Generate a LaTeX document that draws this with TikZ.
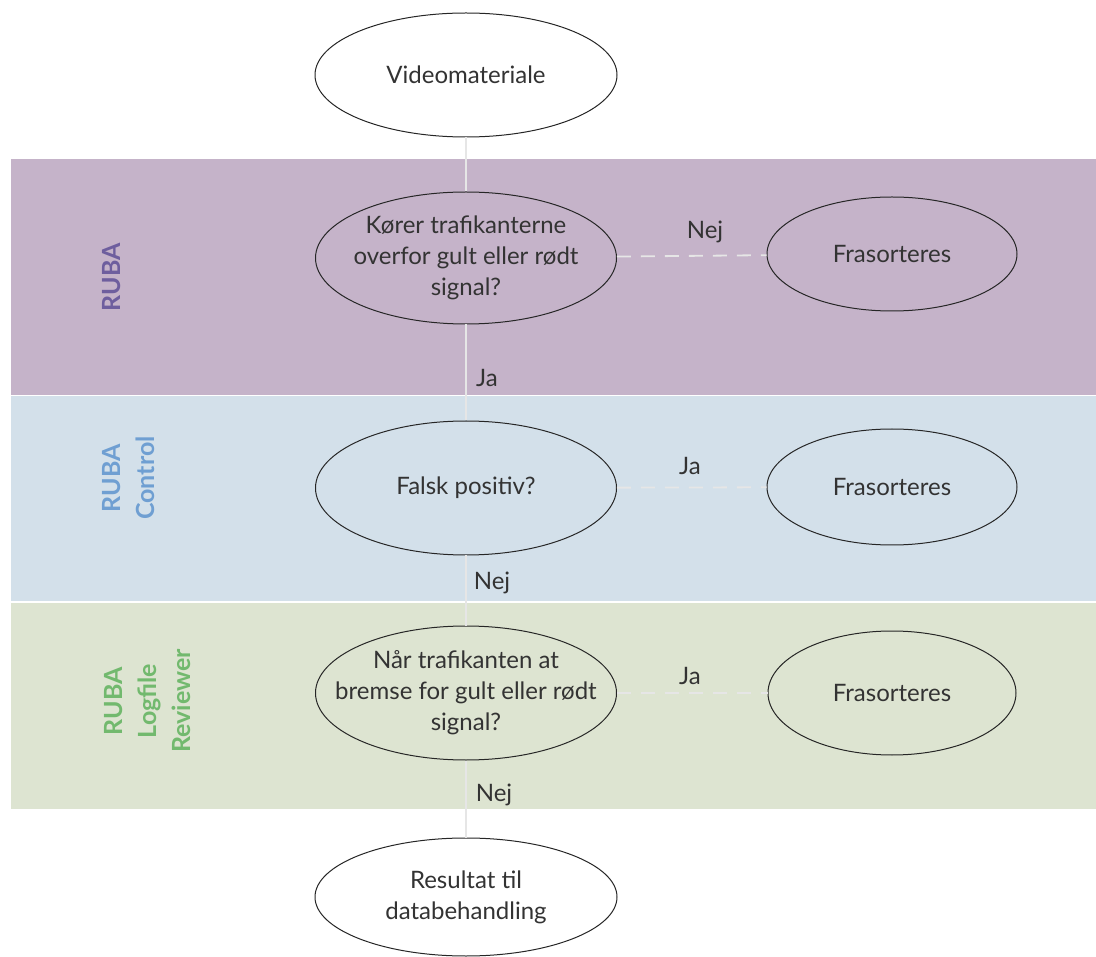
\documentclass[tikz,border=0pt]{standalone}
\usepackage{fontspec}
\setmainfont{Lato}
\usepackage{tikz}
\usetikzlibrary{shapes.geometric}

\definecolor{lanepurple}{HTML}{C5B3C9}
\definecolor{laneblue}{HTML}{D3E0EA}
\definecolor{lanegreen}{HTML}{DDE4D1}
\definecolor{txtpurple}{HTML}{6E5E9E}
\definecolor{txtblue}{HTML}{6F9FD2}
\definecolor{txtgreen}{HTML}{72B96E}
\definecolor{linkgray}{HTML}{E6E6E6}
\definecolor{inkgray}{HTML}{333333}

\begin{document}
\begin{tikzpicture}[
		x=1pt, y=-1pt,
		every node/.style={font=\fontsize{24}{31}\selectfont, text=inkgray},
		step box/.style={ellipse, draw=black!85, line width=1pt, inner xsep=-45pt, inner ysep=-15pt, align=center},
		lane label/.style={rotate=90, font=\bfseries\fontsize{25}{34}\selectfont, align=center},
		link/.style={draw=linkgray, line width=1.8pt},
		dashlink/.style={draw=linkgray, line width=1.8pt, dash pattern=on 14pt off 10pt}
	]
  \useasboundingbox (0,0) rectangle (1096,957);
  % swimlanes
  \fill[lanepurple] (11,159) rectangle (1096,395);
  \fill[laneblue] (11,396) rectangle (1096,601);
  \fill[lanegreen] (11,603) rectangle (1096,809);
  \node (lane_ruba) [lane label, text=txtpurple] at (112,277) {RUBA};
  \node (lane_control) [lane label, text=txtblue] at (129,478) {RUBA\\Control};
  \node (lane_logfile) [lane label, text=txtgreen] at (148,701) {RUBA\\Logfile\\Reviewer};

  \node (video) [step box, fill=white, minimum width=302pt, minimum height=124pt] at (466,75) {Videomateriale};
  \node (q_signal) [step box, minimum width=301pt, minimum height=132pt] at (466,258) {Kører trafikanterne\\overfor gult eller rødt\\signal?};
  \node (out_1) [step box, minimum width=250pt, minimum height=114pt] at (892,254) {Frasorteres};
  \node (q_false) [step box, minimum width=301pt, minimum height=134pt] at (466,488) {Falsk positiv?};
  \node (out_2) [step box, minimum width=250pt, minimum height=116pt] at (892,487) {Frasorteres};
  \node (q_brake) [step box, minimum width=301pt, minimum height=134pt] at (466,693) {Når trafikanten at\\bremse for gult eller rødt\\signal?};
  \node (out_3) [step box, minimum width=248pt, minimum height=124pt] at (892,693) {Frasorteres};
  \node (result) [step box, fill=white, minimum width=302pt, minimum height=118pt] at (466,897) {Resultat til\\databehandling};

  \draw[link] (video) -- (q_signal);
  \draw[link] (q_signal) -- (q_false);
  \draw[link] (q_false) -- (q_brake);
  \draw[link] (q_brake) -- (result);
  \draw[dashlink] (q_signal) -- (out_1);
  \draw[dashlink] (q_false) -- (out_2);
  \draw[dashlink] (q_brake) -- (out_3);

  \node (nej_1) at (705,232) {Nej};
  \node (ja_1) at (487,378) {Ja};
  \node (ja_2) at (690,466) {Ja};
  \node (nej_2) at (492,583) {Nej};
  \node (ja_3) at (690,676) {Ja};
  \node (nej_3) at (494,795) {Nej};
\end{tikzpicture}
\end{document}
